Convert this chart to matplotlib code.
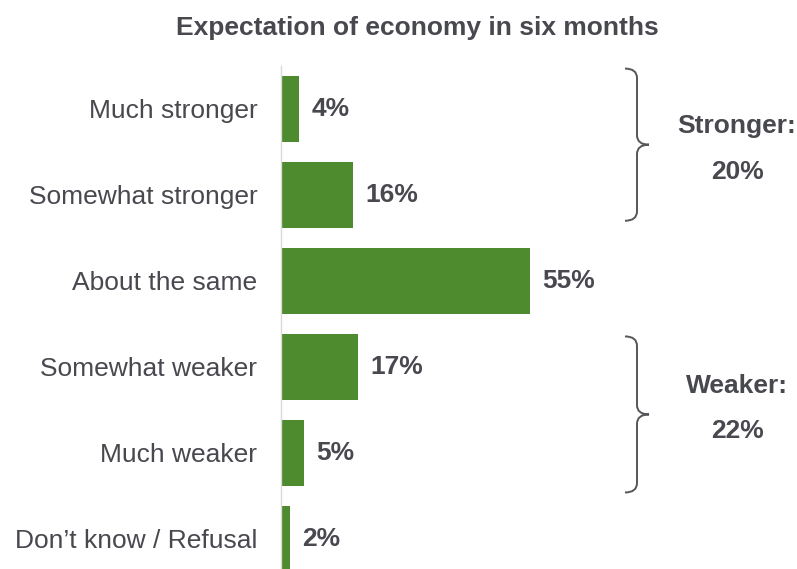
import matplotlib.pyplot as plt
from matplotlib.path import Path
from matplotlib.patches import PathPatch
from matplotlib.transforms import blended_transform_factory

categories = ["Much stronger", "Somewhat stronger", "About the same",
              "Somewhat weaker", "Much weaker", "Don\u2019t know / Refusal"]
values = [4, 16, 55, 17, 5, 2]
# label, share, brace top, brace bottom, label row (in category units)
groups = [("Stronger:", "20%", -0.47, 1.30, 0.285),
          ("Weaker:", "22%", 2.645, 4.46, 3.30)]

green = "#4e8a2e"
txt = "#48484f"
plt.rcParams['font.family'] = ['Liberation Sans', 'DejaVu Sans']

fig = plt.figure(figsize=(7.97, 5.69), dpi=100)
ax = fig.add_axes([281 / 797, 0, 516 / 797, (569 - 66) / 569])

y = range(len(categories))
ax.barh(y, values, height=0.76, color=green)
ax.set_xlim(0, 114)
ax.set_ylim(5.35, -0.5)

for s in ["top", "right", "bottom"]:
    ax.spines[s].set_visible(False)
ax.spines["left"].set_color("#d9d9d9")
ax.spines["left"].set_linewidth(1.0)
ax.set_xticks([])
ax.set_yticks(list(y))
ax.set_yticklabels(categories, fontsize=19, color=txt)
ax.tick_params(axis="y", length=0, pad=17)

for i, v in enumerate(values):
    ax.text(v + 2.7, i, f"{v}%", va="center", ha="left", fontsize=19,
            fontweight="bold", color=txt)

fig.text(417 / 797, 1 - 35 / 569, "Expectation of economy in six months",
         ha="center", va="baseline", fontsize=19, fontweight="bold", color=txt)

# curly braces to the right, x in axes fraction, y in data
tr = blended_transform_factory(ax.transAxes, ax.transData)
def px(p):
    return (p - 281) / 516

for name, pct, top, bot, ly in groups:
    mid = (top + bot) / 2
    x0, x1, x2 = px(625), px(637), px(649)
    r = 0.11
    verts = [(x0, top), (x1, top), (x1, top + r),
             (x1, mid - r), (x1, mid), (x2, mid),
             (x1, mid), (x1, mid + r),
             (x1, bot - r), (x1, bot), (x0, bot)]
    codes = [Path.MOVETO, Path.CURVE3, Path.CURVE3,
             Path.LINETO, Path.CURVE3, Path.CURVE3,
             Path.CURVE3, Path.CURVE3,
             Path.LINETO, Path.CURVE3, Path.CURVE3]
    ax.add_patch(PathPatch(Path(verts, codes), transform=tr, fill=False,
                           edgecolor="#55555a", lw=1.4, clip_on=False))
    ax.text(px(737), ly, name, transform=tr, ha="center",
            va="baseline", fontsize=19, fontweight="bold", color=txt)
    ax.text(px(737), ly + 0.53, pct, transform=tr, ha="center",
            va="baseline", fontsize=19, fontweight="bold", color=txt)

fig.savefig("out.png", dpi=100)
